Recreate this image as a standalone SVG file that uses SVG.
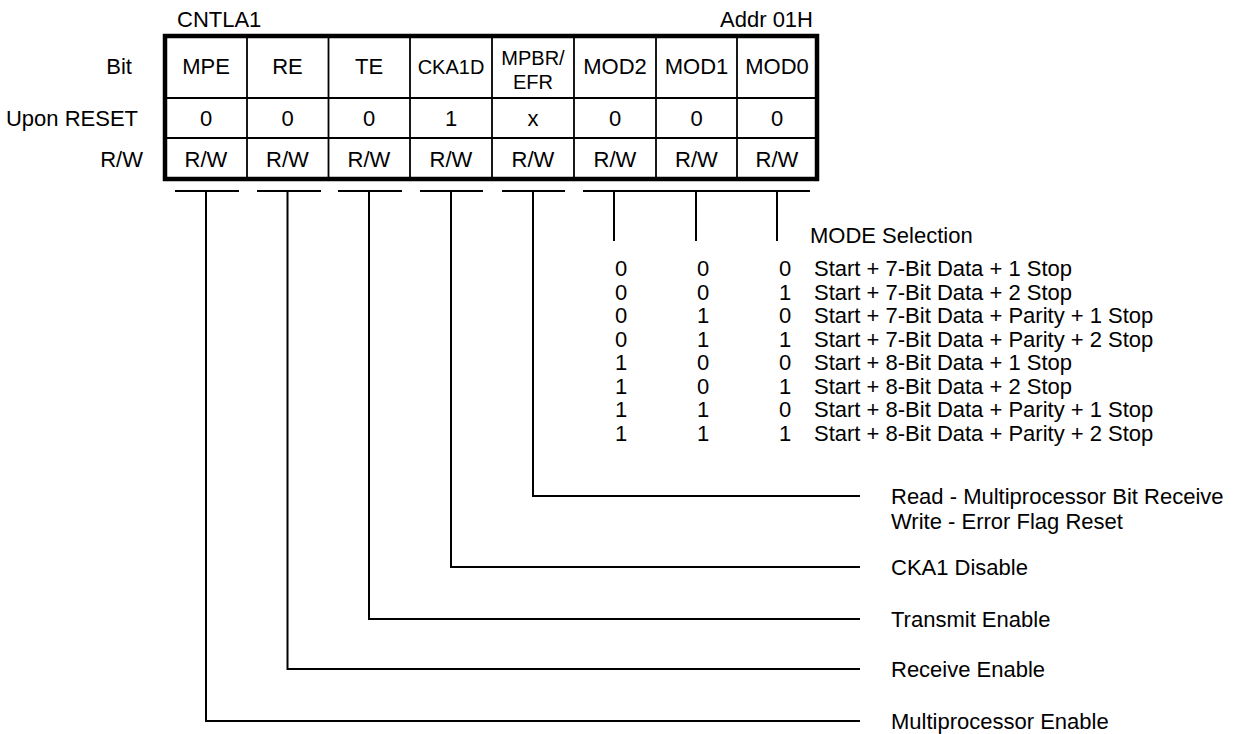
<svg xmlns="http://www.w3.org/2000/svg" width="1244" height="734" viewBox="0 0 1244 734">
<style>
text{font-family:"Liberation Sans",Arial,Helvetica,sans-serif;font-size:22px;fill:#000}
.c{text-anchor:middle}
.r{text-anchor:end}
.s{font-size:20px}
.ln{stroke:#000;stroke-width:2;fill:none}
.grid{stroke:#000;stroke-width:1.8;fill:none}
</style>
<rect width="1244" height="734" fill="#fff"/>
<g id="header">
<text x="177" y="27">CNTLA1</text>
<text x="813" y="27" class="r">Addr 01H</text>
<text x="132" y="74" class="r">Bit</text>
<text x="138" y="126" class="r">Upon RESET</text>
<text x="143" y="167" class="r">R/W</text>
</g>
<g id="register">
<path class="grid" d="M247 36V179M328.5 36V179M410 36V179M492 36V179M574 36V179M656 36V179M737 36V179M165 98H817M165 138H817"/>
<rect x="165" y="36" width="652" height="143" fill="none" stroke="#000" stroke-width="4.5"/>
</g>
<g id="bit7"><text x="206" y="74" class="c">MPE</text><text x="206" y="126" class="c">0</text><text x="206" y="167" class="c">R/W</text></g>
<g id="bit6"><text x="287.5" y="74" class="c">RE</text><text x="287.5" y="126" class="c">0</text><text x="287.5" y="167" class="c">R/W</text></g>
<g id="bit5"><text x="369" y="74" class="c">TE</text><text x="369" y="126" class="c">0</text><text x="369" y="167" class="c">R/W</text></g>
<g id="bit4"><text x="451" y="74" class="c s">CKA1D</text><text x="451" y="126" class="c">1</text><text x="451" y="167" class="c">R/W</text></g>
<g id="bit3"><text x="533" y="65" class="c s">MPBR/</text><text x="533" y="89" class="c s">EFR</text><text x="533" y="126" class="c">x</text><text x="533" y="167" class="c">R/W</text></g>
<g id="bit2"><text x="615" y="74" class="c">MOD2</text><text x="615" y="126" class="c">0</text><text x="615" y="167" class="c">R/W</text></g>
<g id="bit1"><text x="696.5" y="74" class="c">MOD1</text><text x="696.5" y="126" class="c">0</text><text x="696.5" y="167" class="c">R/W</text></g>
<g id="bit0"><text x="777" y="74" class="c">MOD0</text><text x="777" y="126" class="c">0</text><text x="777" y="167" class="c">R/W</text></g>
<g id="connectors">
<path class="ln" d="M175 191H239M257 191H321M338 191H402M420 191H483M502 191H565M583 191H810"/>
<path class="ln" d="M614 191V241M696 191V241M777 191V241"/>
<path class="ln" d="M533 191V496H860"/>
<path class="ln" d="M451 191V567H860"/>
<path class="ln" d="M369 191V619H860"/>
<path class="ln" d="M287.5 191V669H860"/>
<path class="ln" d="M206 191V721H860"/>
</g>
<g id="mode-table">
<text x="810" y="243">MODE Selection</text>
<g class="c">
<text x="621" y="276" class="c">0</text><text x="703" y="276" class="c">0</text><text x="785" y="276" class="c">0</text>
<text x="621" y="299.5" class="c">0</text><text x="703" y="299.5" class="c">0</text><text x="785" y="299.5" class="c">1</text>
<text x="621" y="323" class="c">0</text><text x="703" y="323" class="c">1</text><text x="785" y="323" class="c">0</text>
<text x="621" y="346.5" class="c">0</text><text x="703" y="346.5" class="c">1</text><text x="785" y="346.5" class="c">1</text>
<text x="621" y="370" class="c">1</text><text x="703" y="370" class="c">0</text><text x="785" y="370" class="c">0</text>
<text x="621" y="393.5" class="c">1</text><text x="703" y="393.5" class="c">0</text><text x="785" y="393.5" class="c">1</text>
<text x="621" y="417" class="c">1</text><text x="703" y="417" class="c">1</text><text x="785" y="417" class="c">0</text>
<text x="621" y="440.5" class="c">1</text><text x="703" y="440.5" class="c">1</text><text x="785" y="440.5" class="c">1</text>
</g>
<text x="814" y="276">Start + 7-Bit Data + 1 Stop</text>
<text x="814" y="299.5">Start + 7-Bit Data + 2 Stop</text>
<text x="814" y="323">Start + 7-Bit Data + Parity + 1 Stop</text>
<text x="814" y="346.5">Start + 7-Bit Data + Parity + 2 Stop</text>
<text x="814" y="370">Start + 8-Bit Data + 1 Stop</text>
<text x="814" y="393.5">Start + 8-Bit Data + 2 Stop</text>
<text x="814" y="417">Start + 8-Bit Data + Parity + 1 Stop</text>
<text x="814" y="440.5">Start + 8-Bit Data + Parity + 2 Stop</text>
</g>
<g id="labels">
<text x="891" y="504">Read - Multiprocessor Bit Receive</text>
<text x="891" y="529">Write - Error Flag Reset</text>
<text x="891" y="575">CKA1 Disable</text>
<text x="891" y="627">Transmit Enable</text>
<text x="891" y="677">Receive Enable</text>
<text x="891" y="729">Multiprocessor Enable</text>
</g>
</svg>
